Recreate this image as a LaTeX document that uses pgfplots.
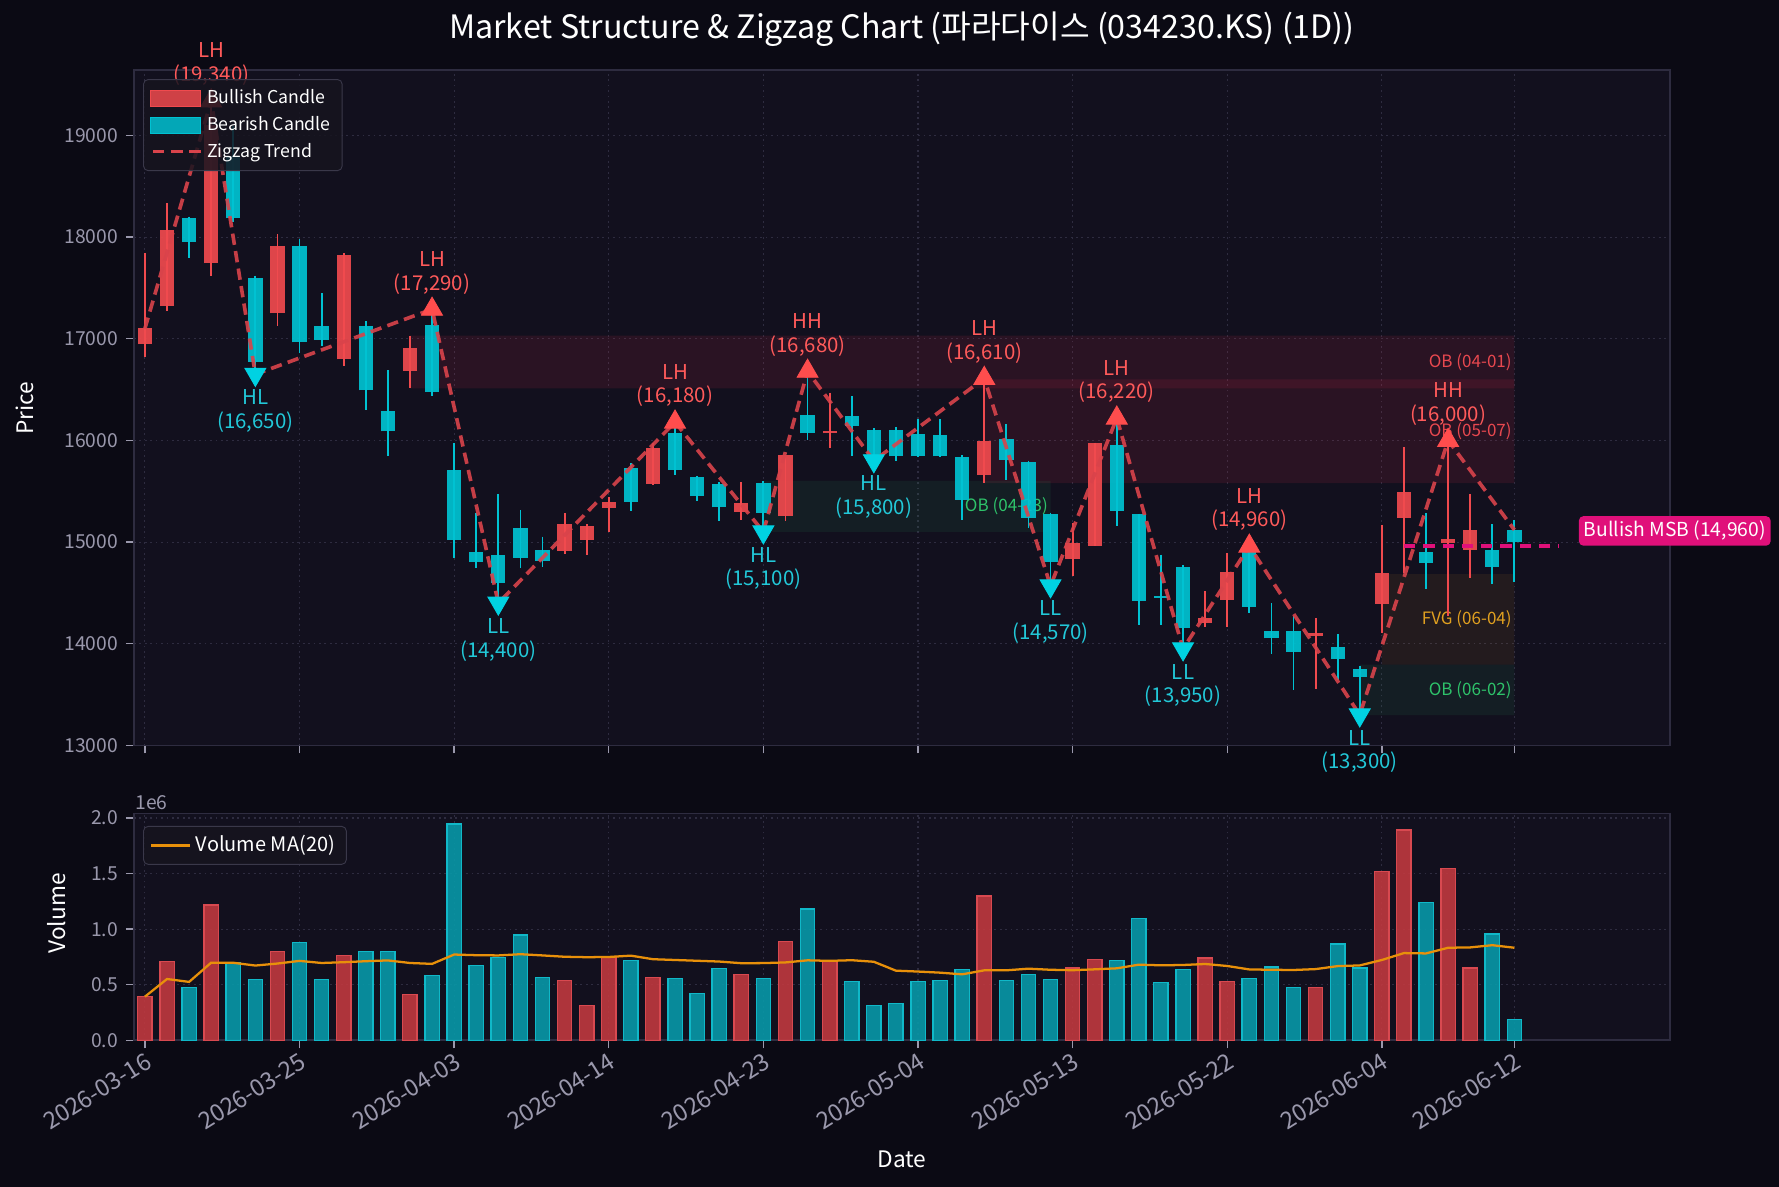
\documentclass[border=0pt]{standalone}
\usepackage{fontspec}
\setmainfont{Noto Sans CJK KR}
\usepackage{pgfplots}
\usepackage{pgfplotstable}
\pgfplotsset{compat=1.18}

\definecolor{figbg}{HTML}{0B0A14}
\definecolor{axbg}{HTML}{12101E}
\definecolor{axframe}{HTML}{2E2C40}
\definecolor{gridc}{HTML}{2E2C40}
\definecolor{ticktext}{HTML}{9A98AC}
\definecolor{bullc}{HTML}{F04A4E}
\definecolor{bearc}{HTML}{00C2D2}
\definecolor{zig}{HTML}{D9434B}
\definecolor{hic}{HTML}{FF4D4D}
\definecolor{loc}{HTML}{00D2E2}
\definecolor{hitext}{HTML}{FF5A5A}
\definecolor{lotext}{HTML}{22C8D8}
\definecolor{obred}{HTML}{FF3050}
\definecolor{obgreen}{HTML}{2ECC71}
\definecolor{fvg}{HTML}{F0A020}
\definecolor{oblabred}{HTML}{E8484F}
\definecolor{oblabgreen}{HTML}{2EC26A}
\definecolor{fvglab}{HTML}{E0A020}
\definecolor{msb}{HTML}{E0107A}
\definecolor{volred}{HTML}{C0393F}
\definecolor{volredE}{HTML}{D84950}
\definecolor{volcyan}{HTML}{0898A8}
\definecolor{volcyanE}{HTML}{10B8C8}
\definecolor{mac}{HTML}{E8900A}
\definecolor{legbg}{HTML}{16141F}
\definecolor{legframe}{HTML}{3A384A}

\newcommand{\tickfont}{\fontsize{8.5}{10}\selectfont}
\newcommand{\datefont}{\fontsize{10.4}{12}\selectfont}
\newcommand{\plab}{\fontsize{9}{10.5}\selectfont}
\newcommand{\zfont}{\fontsize{7.5}{9}\selectfont}
\newcommand{\legfont}{\fontsize{7.8}{9}\selectfont}
\newcommand{\vlegfont}{\fontsize{8.8}{10}\selectfont}

% candles: index, open, high, low, close
\pgfplotstableread{
i O H L C
0 16947 17842 16816 17105
1 17320 18333 17268 18070
3 17741 19340 17618 19100
6 17250 18026 17127 17917
9 16798 17840 16732 17820
12 16684 17031 16513 16908
19 14912 15285 14880 15175
20 15022 15175 14868 15162
21 15333 15439 15097 15395
23 15570 15974 15560 15921
27 15298 15592 15219 15382
29 15254 15860 15210 15855
31 16070 16469 15930 16088
38 15658 16610 15579 15996
42 14833 15184 14671 14987
43 14965 15978 14960 15978
48 14202 14518 14167 14254
49 14430 14890 14167 14702
53 14079 14254 13553 14101
56 14395 15167 14101 14693
57 15241 15934 14693 15496
59 14991 16000 14276 15026
60 14925 15474 14649 15118
}\bull

\pgfplotstableread{
i O H L C
2 18189 18200 17794 17952
4 18800 19090 18150 18183
5 17601 17620 16650 16772
7 17917 17983 16864 16965
8 17127 17447 16930 16987
10 17127 17171 16303 16491
11 16294 16689 15851 16088
13 17140 17290 16439 16478
14 15711 15974 14847 15018
15 14899 15285 14746 14803
16 14868 15474 14400 14597
17 15136 15316 14746 14847
18 14925 15053 14759 14816
22 15724 15776 15307 15395
24 16075 16180 15658 15711
25 15636 15650 15408 15452
26 15570 15592 15210 15342
28 15579 15601 15100 15285
30 16250 16680 16000 16070
32 16237 16434 15847 16140
33 16105 16118 15800 15855
34 16105 16132 15798 15842
35 16061 16206 15833 15842
36 16053 16206 15833 15842
37 15833 15855 15219 15417
39 16018 16162 15614 15811
40 15789 15800 15140 15241
41 15276 15290 14570 14803
44 15956 16220 15162 15307
45 15272 15280 14180 14421
46 14474 14877 14189 14452
47 14759 14770 13950 14153
50 14943 14960 14298 14364
51 14123 14399 13904 14053
52 14123 14268 13544 13917
54 13965 14092 13640 13846
55 13750 13785 13300 13675
58 14899 15285 14539 14794
61 14925 15175 14583 14759
62 15118 15219 14605 15000
}\bear

\pgfplotstableread{
i v
0 393000
1 710000
3 1218000
6 801000
9 764000
12 414000
19 538000
20 311000
21 746000
23 565000
27 592000
29 891000
31 710000
38 1299000
42 650000
43 728000
48 740000
49 532000
53 477000
56 1520000
57 1891000
59 1547000
60 650000
}\volbull

\pgfplotstableread{
i v
2 474000
4 695000
5 547000
7 882000
8 547000
10 801000
11 801000
13 583000
14 1946000
15 674000
16 746000
17 946000
18 565000
22 719000
24 556000
25 420000
26 647000
28 556000
30 1181000
32 529000
33 311000
34 329000
35 529000
36 538000
37 640000
39 538000
40 595000
41 550000
44 719000
45 1094000
46 523000
47 640000
50 559000
51 659000
52 477000
54 867000
55 650000
58 1239000
61 958000
62 187000
}\volbear

\pgfplotstableread{
i m
0 393000
1 552000
2 526000
3 699000
4 698000
5 673000
6 691000
7 715000
8 696000
9 703000
10 712000
11 719000
12 696000
13 688000
14 772000
15 766000
16 764000
17 775000
18 764000
19 752000
20 748000
21 750000
22 762000
23 730000
24 723000
25 716000
26 709000
27 694000
28 695000
29 701000
30 720000
31 715000
32 721000
33 707000
34 627000
35 619000
36 609000
37 594000
38 630000
39 630000
40 645000
41 635000
42 631000
43 639000
44 648000
45 681000
46 675000
47 678000
48 687000
49 669000
50 638000
51 635000
52 633000
53 641000
54 668000
55 674000
56 723000
57 785000
58 782000
59 833000
60 836000
61 856000
62 833000
}\volma

\pgfplotsset{
  darkaxis/.style={
    scale only axis,
    width=677pt,
    xmin=-0.5, xmax=69.05,
    axis background/.style={fill=axbg},
    axis line style={draw=axframe, line width=0.8pt},
    tick align=outside,
    major tick length=3.5pt,
    xtick pos=bottom, ytick pos=left,
    tick style={draw=ticktext, line width=0.6pt},
    grid=major,
    major grid style={draw=gridc, line width=0.5pt, dash pattern=on 0.8pt off 1.6pt},
    ticklabel style={font=\tickfont, text=ticktext},
    xtick={0,7,14,21,28,35,42,49,56,62},
    scaled x ticks=false, scaled y ticks=false,
    legend cell align=left,
  },
  candle/.style={draw=none, mark=none, forget plot,
    error bars/.cd, y dir=both, y explicit, error mark=none},
}

\begin{document}
\begin{tikzpicture}
\useasboundingbox (0pt,0pt) rectangle (784pt,523pt);
\fill[figbg] (0pt,0pt) rectangle (784pt,523pt);

\node[text=white, font=\fontsize{14.2}{16}\selectfont] at (397.5pt,510pt)
  {Market Structure \& Zigzag Chart (파라다이스 (034230.KS) (1D))};
\node[text=white, font=\fontsize{10}{12}\selectfont, rotate=90] at (11pt,343pt) {Price};
\node[text=white, font=\fontsize{10}{12}\selectfont, rotate=90] at (25pt,120.5pt) {Volume};
\node[text=white, font=\fontsize{10}{12}\selectfont] at (397.5pt,12pt) {Date};
\node[text=ticktext, font=\tickfont, anchor=west, inner sep=0pt] at (59.5pt,169.5pt) {1e6};

% ---------------- price panel ----------------
\begin{axis}[darkaxis,
  at={(59pt,194.5pt)}, anchor=south west,
  height=297.5pt,
  ymin=13000, ymax=19640,
  xticklabels={},
  ytick={13000,14000,15000,16000,17000,18000,19000},
  yticklabels={13000,14000,15000,16000,17000,18000,19000},
  clip=false,
  legend style={at={(0.006,0.987)}, anchor=north west, fill=legbg, fill opacity=0.85,
    text opacity=1, draw=legframe, text=white, font=\legfont, rounded corners=2pt,
    row sep=0pt, inner xsep=3pt, inner ysep=2.5pt},
]
% zones
\addplot[forget plot, draw=none, fill=obred, fill opacity=0.10]
  coordinates {(12,16513) (62,16513) (62,17031) (12,17031) (12,16513)};
\addplot[forget plot, draw=none, fill=obred, fill opacity=0.10]
  coordinates {(38,15579) (62,15579) (62,16601) (38,16601) (38,15579)};
\addplot[forget plot, draw=none, fill=obgreen, fill opacity=0.08]
  coordinates {(28,15101) (41,15101) (41,15601) (28,15601) (28,15101)};
\addplot[forget plot, draw=none, fill=fvg, fill opacity=0.08]
  coordinates {(56,13794) (62,13794) (62,14684) (56,14684) (56,13794)};
\addplot[forget plot, draw=none, fill=obgreen, fill opacity=0.08]
  coordinates {(55,13298) (62,13298) (62,13794) (55,13794) (55,13298)};
\node[anchor=east, text=oblabred, font=\zfont, inner sep=1pt] at (axis cs:62,16772) {OB (04-01)};
\node[anchor=east, text=oblabred, font=\zfont, inner sep=1pt] at (axis cs:62,16090) {OB (05-07)};
\node[anchor=east, text=oblabgreen, font=\zfont, inner sep=1pt] at (axis cs:41,15351) {OB (04-23)};
\node[anchor=east, text=fvglab, font=\zfont, inner sep=1pt] at (axis cs:62,14239) {FVG (06-04)};
\node[anchor=east, text=oblabgreen, font=\zfont, inner sep=1pt] at (axis cs:62,13546) {OB (06-02)};

% wicks
\addplot[candle, error bar style={draw=bullc, line width=0.8pt}]
  table[x=i, y=H, y error plus expr=0, y error minus expr=\thisrow{H}-\thisrow{L}] {\bull};
\addplot[candle, error bar style={draw=bearc, line width=0.8pt}]
  table[x=i, y=H, y error plus expr=0, y error minus expr=\thisrow{H}-\thisrow{L}] {\bear};
% bodies
\addplot[candle, error bar style={draw=bullc, line width=6.3pt, draw opacity=0.92}]
  table[x=i, y=O, y error plus expr=\thisrow{C}-\thisrow{O}, y error minus expr=0] {\bull};
\addplot[candle, error bar style={draw=bearc, line width=6.3pt, draw opacity=0.92}]
  table[x=i, y=C, y error plus expr=\thisrow{O}-\thisrow{C}, y error minus expr=0] {\bear};

% zigzag
\addplot[forget plot, draw=zig, draw opacity=0.9, line width=1.6pt, dash pattern=on 5pt off 2.8pt]
  coordinates {(0,17100) (3,19340) (5,16650) (13,17290) (16,14400) (24,16180) (28,15100)
    (30,16680) (33,15800) (38,16610) (41,14570) (44,16220) (47,13950) (50,14960)
    (55,13300) (59,16000) (62,15120)};

% MSB
\addplot[forget plot, draw=msb, line width=1.5pt, dash pattern=on 5pt off 3.5pt]
  coordinates {(57,14960) (64,14960)};
\node[anchor=south west, fill=msb, text=white, rounded corners=2pt, inner sep=2.2pt,
  font=\fontsize{8.5}{10}\selectfont] at (axis cs:64.9,14960) {Bullish MSB (14,960)};

% pivots
\addplot[forget plot, only marks, mark=triangle*, mark size=5.3pt,
  mark options={fill=hic, draw=hic},
  point meta=explicit symbolic, nodes near coords, nodes near coords align={above},
  every node near coord/.append style={align=center, yshift=5.5pt, inner sep=1pt, font=\plab, text=hitext}]
  coordinates {(3,19340) [LH\\(19,340)] (13,17290) [LH\\(17,290)] (24,16180) [LH\\(16,180)]
    (30,16680) [HH\\(16,680)] (38,16610) [LH\\(16,610)] (44,16220) [LH\\(16,220)]
    (50,14960) [LH\\(14,960)] (59,16000) [HH\\(16,000)]};
\addplot[forget plot, only marks, mark=triangle*, mark size=5.3pt,
  mark options={fill=loc, draw=loc, rotate=180},
  point meta=explicit symbolic, nodes near coords, nodes near coords align={below},
  every node near coord/.append style={align=center, yshift=-5.5pt, inner sep=1pt, font=\plab, text=lotext}]
  coordinates {(5,16650) [HL\\(16,650)] (16,14400) [LL\\(14,400)] (28,15100) [HL\\(15,100)]
    (33,15800) [HL\\(15,800)] (41,14570) [LL\\(14,570)] (47,13950) [LL\\(13,950)]
    (55,13300) [LL\\(13,300)]};

% legend
\addlegendimage{legend image code/.code={\fill[bullc, sharp corners] (0pt,-3.5pt) rectangle (22pt,3.5pt);}}
\addlegendentry{Bullish Candle}
\addlegendimage{legend image code/.code={\fill[bearc, sharp corners] (0pt,-3.5pt) rectangle (22pt,3.5pt);}}
\addlegendentry{Bearish Candle}
\addlegendimage{legend image code/.code={\draw[zig, sharp corners, line width=1.6pt, dash pattern=on 5pt off 3pt] (1pt,0pt) -- (22pt,0pt);}}
\addlegendentry{Zigzag Trend}
\end{axis}

% ---------------- volume panel ----------------
\begin{axis}[darkaxis,
  at={(59pt,64.5pt)}, anchor=south west,
  height=100pt,
  ymin=0, ymax=2040000,
  ytick={0,500000,1000000,1500000,2000000},
  yticklabels={0.0,0.5,1.0,1.5,2.0},
  xticklabels={2026-03-16,2026-03-25,2026-04-03,2026-04-14,2026-04-23,2026-05-04,2026-05-13,2026-05-22,2026-06-04,2026-06-12},
  xticklabel style={rotate=32, anchor=north east, inner sep=1pt, font=\datefont},
  legend style={at={(0.006,0.945)}, anchor=north west, fill=legbg, fill opacity=0.85,
    text opacity=1, draw=legframe, text=white, font=\vlegfont, rounded corners=2pt,
    inner xsep=3pt, inner ysep=2pt},
]
\addplot[forget plot, ybar, bar width=0.65, bar shift=0pt, fill=volred, fill opacity=0.9,
  draw=volredE, line width=0.6pt] table[x=i, y=v] {\volbull};
\addplot[forget plot, ybar, bar width=0.65, bar shift=0pt, fill=volcyan, fill opacity=0.9,
  draw=volcyanE, line width=0.6pt] table[x=i, y=v] {\volbear};
\addplot[draw=mac, line width=1pt, sharp corners] table[x=i, y=m] {\volma};
\addlegendentry{Volume MA(20)}
\end{axis}
\end{tikzpicture}
\end{document}
